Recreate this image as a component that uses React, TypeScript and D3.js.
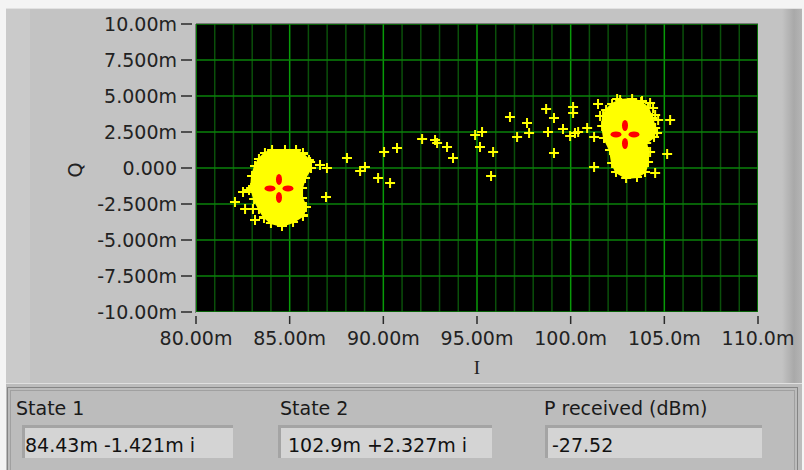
import React from "react";
import * as d3 from "d3";

// Axis ticks (values in milli-units)
const xTickValues = [80, 85, 90, 95, 100, 105, 110];
const xTickLabels = ["80.00m", "85.00m", "90.00m", "95.00m", "100.0m", "105.0m", "110.0m"];
const yTickValues = [10, 7.5, 5, 2.5, 0, -2.5, -5, -7.5, -10];
const yTickLabels = ["10.00m", "7.500m", "5.000m", "2.500m", "0.000", "-2.500m", "-5.000m", "-7.500m", "-10.00m"];

// Dense symbol clouds (outline of the saturated region), [I, Q] in m-units
const cluster1Outline: [number, number][] = [
  [83.68, 1.04], [84.06, 1.25], [84.75, 1.25], [85.34, 1.25], [85.71, 0.97], [86.03, 0.56],
  [86.14, 0.0], [85.82, -0.69], [85.66, -1.39], [85.66, -2.08], [85.87, -2.71], [85.71, -3.33],
  [85.18, -3.75], [84.59, -4.03], [84.0, -3.82], [83.63, -3.4], [83.36, -2.85], [83.1, -2.15],
  [82.94, -1.39], [82.99, -0.56], [83.15, 0.14], [83.36, 0.63],
];
const cluster2Outline: [number, number][] = [
  [101.89, 4.03], [102.21, 4.44], [102.64, 4.72], [103.28, 4.79], [103.76, 4.58], [104.13, 4.17],
  [104.35, 3.47], [104.51, 2.78], [104.45, 2.15], [104.03, 1.74], [104.13, 1.11], [104.13, 0.42],
  [103.97, -0.28], [103.54, -0.63], [102.96, -0.69], [102.42, -0.28], [102.21, 0.35], [102.1, 1.25],
  [101.78, 2.08], [101.68, 2.92], [101.73, 3.61],
];

// Individual received symbols outside the dense clouds
const scatterPoints: [number, number][] = [
  [82.08, -2.36], [82.62, -2.85], [83.04, -2.85], [83.15, -3.61], [83.63, -3.47], [82.51, -1.67], [82.83, -1.53],
  [85.71, 1.04], [86.09, 0.42], [86.62, 0.21], [86.99, 0.0], [86.94, -2.01], [85.71, -3.26],
  [88.06, 0.69], [88.76, -0.21], [89.02, 0.07], [89.72, -0.69], [90.04, 1.11], [90.36, -1.04], [90.73, 1.39],
  [92.07, 2.01], [92.76, 1.94], [92.87, 1.74], [93.4, 1.46], [93.72, 0.69],
  [94.9, 2.29], [95.27, 2.5], [95.16, 1.46], [95.86, 1.11], [95.75, -0.56],
  [96.76, 3.54], [97.14, 2.15], [97.67, 3.13], [97.78, 2.43], [98.69, 4.1], [98.79, 2.5],
  [99.11, 3.47], [99.11, 1.04], [99.59, 2.71], [99.97, 2.22], [100.13, 3.82], [100.13, 4.24], [100.4, 2.5],
  [101.46, 4.44], [101.57, 3.61], [100.88, 2.78], [100.23, 2.43], [101.25, 2.15], [101.25, 0.07],
  [102.48, 4.79], [103.81, 4.65], [104.24, 4.51], [104.4, 4.17], [104.51, 3.68], [104.13, 3.61],
  [104.67, 3.33], [105.31, 3.33], [104.61, 2.43], [104.24, 1.11], [105.15, 0.97], [104.51, -0.35],
];

// Estimated states
const stateI = [84.43, 102.9];
const stateQ = [-1.421, 2.327];
const stateLabels = ["State 1", "State 2"];
const stateValues = ["84.43m -1.421m i", "102.9m +2.327m i"];
const powerLabel = "P received (dBm)";
const powerValue = "-27.52";

const FONT = "'DejaVu Sans', Verdana, sans-serif";

export default function App() {
  const left = 196, right = 758, top = 24, bottom = 312;
  const x = d3.scaleLinear().domain([80, 110]).range([left, right]);
  const y = d3.scaleLinear().domain([-10, 10]).range([bottom, top]);
  const minorX = d3.range(80, 111, 1);
  const plus = (px: number, py: number, s = 5) => `M${px - s},${py}H${px + s}M${px},${py - s}V${py + s}`;
  const outlinePath = (pts: [number, number][]) =>
    d3.line<[number, number]>().x((d) => x(d[0])).y((d) => y(d[1])).curve(d3.curveLinearClosed)(pts) || "";

  const boxes = [
    { lx: 16, bx: 22, bw: 211, tx: 25, label: stateLabels[0], value: stateValues[0] },
    { lx: 280, bx: 278, bw: 214, tx: 288, label: stateLabels[1], value: stateValues[1] },
    { lx: 544, bx: 545, bw: 217, tx: 552, label: powerLabel, value: powerValue },
  ];

  return (
    <svg width={804} height={470} style={{ position: "absolute", left: 0, top: 0 }} fontFamily={FONT}>
      <defs>
        <linearGradient id="rightShade" x1="0" x2="1" y1="0" y2="0">
          <stop offset="0" stopColor="#c3c3c3" />
          <stop offset="0.6" stopColor="#a9a9a9" />
          <stop offset="1" stopColor="#b5b5b5" />
        </linearGradient>
        <clipPath id="plotClip">
          <rect x={left} y={top} width={right - left} height={bottom - top} />
        </clipPath>
      </defs>
      <rect x={0} y={0} width={804} height={470} fill="#f4f4f4" />
      {/* graph panel */}
      <rect x={6} y={8} width={796} height={376} fill="#c3c3c3" />
      <rect x={6} y={8} width={24} height={376} fill="#cacaca" />
      <rect x={782} y={8} width={20} height={376} fill="url(#rightShade)" />
      <line x1={6} x2={802} y1={8.5} y2={8.5} stroke="#e2e2e2" />

      {/* plot area */}
      <rect x={left} y={top} width={right - left} height={bottom - top} fill="#000" />
      <g clipPath="url(#plotClip)">
        {minorX.map((v) => (
          <line key={"vx" + v} x1={x(v)} x2={x(v)} y1={top} y2={bottom}
            stroke={v % 5 === 0 ? "#089a08" : "#0a4f0a"} strokeWidth={1.5} />
        ))}
        {yTickValues.map((v) => (
          <line key={"hy" + v} x1={left} x2={right} y1={y(v)} y2={y(v)} stroke="#0a820a" strokeWidth={1.5} />
        ))}
        <path d={outlinePath(cluster1Outline)} fill="#ffff00" stroke="#ffff00" strokeWidth={2} />
        <path d={outlinePath(cluster2Outline)} fill="#ffff00" stroke="#ffff00" strokeWidth={2} />
        {[...cluster1Outline, ...cluster2Outline].map((d, i) => (
          <path key={"o" + i} d={plus(x(d[0]), y(d[1]))} stroke="#ffff00" strokeWidth={2} fill="none" />
        ))}
        {scatterPoints.map((d, i) => (
          <path key={"p" + i} d={plus(x(d[0]), y(d[1]))} stroke="#ffff00" strokeWidth={2} fill="none" />
        ))}
        {stateI.map((v, i) => {
          const cx = x(v), cy = y(stateQ[i]);
          return (
            <g key={"s" + i} fill="#ff0000">
              <ellipse cx={cx - 9} cy={cy} rx={5.5} ry={3} />
              <ellipse cx={cx + 9} cy={cy} rx={5.5} ry={3} />
              <ellipse cx={cx} cy={cy - 9} rx={3} ry={5.5} />
              <ellipse cx={cx} cy={cy + 9} rx={3} ry={5.5} />
            </g>
          );
        })}
      </g>
      <line x1={left - 0.5} x2={left - 0.5} y1={top} y2={bottom + 1} stroke="#7a7a7a" />
      <line x1={left} x2={right} y1={top - 0.5} y2={top - 0.5} stroke="#7a7a7a" />

      {/* y axis */}
      {yTickValues.map((v, i) => (
        <g key={"yt" + v}>
          <line x1={181} x2={192} y1={y(v)} y2={y(v)} stroke="#2a2a2a" strokeWidth={1.5} />
          <text x={177} y={y(v)} dy="0.36em" textAnchor="end" fontSize={19} fill="#222">{yTickLabels[i]}</text>
        </g>
      ))}
      {/* x axis */}
      {xTickValues.map((v, i) => (
        <g key={"xt" + v}>
          <line x1={x(v)} x2={x(v)} y1={316} y2={324} stroke="#2a2a2a" strokeWidth={1.5} />
          <text x={x(v)} y={345} textAnchor="middle" fontSize={19} fill="#222">{xTickLabels[i]}</text>
        </g>
      ))}
      <text x={(left + right) / 2} y={374} textAnchor="middle" fontSize={19} fill="#222"
        fontFamily="'Liberation Serif', serif">I</text>
      <text transform="translate(75,170) rotate(-90)" textAnchor="middle" dy="0.36em" fontSize={19} fill="#222">Q</text>

      {/* indicator panel */}
      <rect x={6} y={383} width={796} height={87} fill="#bcbcbc" />
      <line x1={6} x2={802} y1={383.5} y2={383.5} stroke="#e0e0e0" />
      <rect x={7.5} y={387.5} width={790} height={90} fill="none" stroke="#858585" />
      <rect x={10.5} y={390.5} width={784} height={90} fill="none" stroke="#a0a0a0" />
      {boxes.map((b, i) => (
        <g key={"b" + i}>
          <text x={b.lx} y={415} fontSize={19} fill="#1a1a1a">{b.label}</text>
          <rect x={b.bx} y={425} width={b.bw} height={33} fill="#d4d4d4" />
          <rect x={b.bx} y={425} width={b.bw} height={3} fill="#a4a4a4" />
          <rect x={b.bx} y={425} width={3} height={33} fill="#a4a4a4" />
          <text x={b.tx} y={452} fontSize={19} fill="#111">{b.value}</text>
        </g>
      ))}
    </svg>
  );
}
